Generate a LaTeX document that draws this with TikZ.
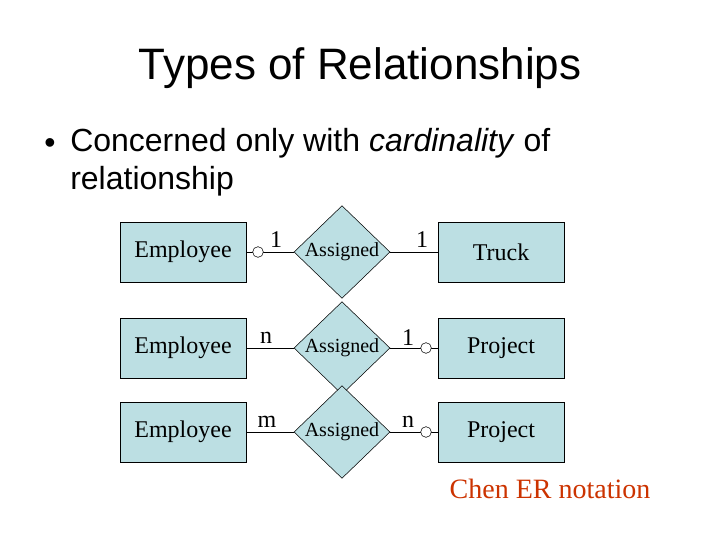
\documentclass[tikz,border=0pt]{standalone}
\usepackage{fontspec}
\setmainfont{Liberation Serif}
\newfontfamily\sans{Liberation Sans}
\usetikzlibrary{shapes.geometric}
\definecolor{ent}{HTML}{BCDFE3}
\definecolor{chen}{HTML}{CC3300}
\begin{document}
\begin{tikzpicture}[x=0.75pt,y=-0.75pt,
 entity/.style={draw,fill=ent,minimum width=94.5pt,minimum height=45pt,inner sep=0pt,font=\fontsize{18}{20}\selectfont},
 rel/.style={draw,fill=ent,diamond,minimum width=72pt,minimum height=53pt,inner sep=0pt,font=\fontsize{15}{16}\selectfont},
 card/.style={font=\fontsize{18}{20}\selectfont,inner sep=0pt},
 opt/.style={draw,fill=white,circle,minimum size=8pt,inner sep=0pt}]
\useasboundingbox (0,0) rectangle (720,540);
\node[font=\sans\fontsize{33}{38}\selectfont] (title) at (360,68) {Types of Relationships};
\node[font=\sans\fontsize{24}{28.5}\selectfont] (bul) at (50,146) {•};
\node[font=\sans\fontsize{24}{28.5}\selectfont,anchor=north west,align=left,inner sep=0pt] (txt) at (70,128) {Concerned only with \textit{cardinality} of\\relationship};
% row 1
\node[entity] (e1) at (183,252) {Employee};
\node[rel] (r1) at (342,252) {Assigned};
\node[entity] (t1) at (501,252) {Truck};
\draw (e1) -- (r1) (r1) -- (t1);
\node[opt] (c1) at (258,252) {};
\node[card] (l1) at (276,240) {1};
\node[card] (l2) at (422,240) {1};
% row 2
\node[entity] (e2) at (183,348) {Employee};
\node[rel] (r2) at (342,348) {Assigned};
\node[entity] (p2) at (501,348) {Project};
\draw (e2) -- (r2) (r2) -- (p2);
\node[opt] (c2) at (426,348) {};
\node[card] (l3) at (266,338) {n};
\node[card] (l4) at (408,338) {1};
% row 3
\node[entity] (e3) at (183,432) {Employee};
\node[rel] (r3) at (342,432) {Assigned};
\node[entity] (p3) at (501,432) {Project};
\draw (e3) -- (r3) (r3) -- (p3);
\node[opt] (c3) at (426,432) {};
\node[card] (l5) at (267,422) {m};
\node[card] (l6) at (408,422) {n};
\node[font=\fontsize{21}{24}\selectfont,text=chen] (chen) at (550,489) {Chen ER notation};
\end{tikzpicture}
\end{document}
